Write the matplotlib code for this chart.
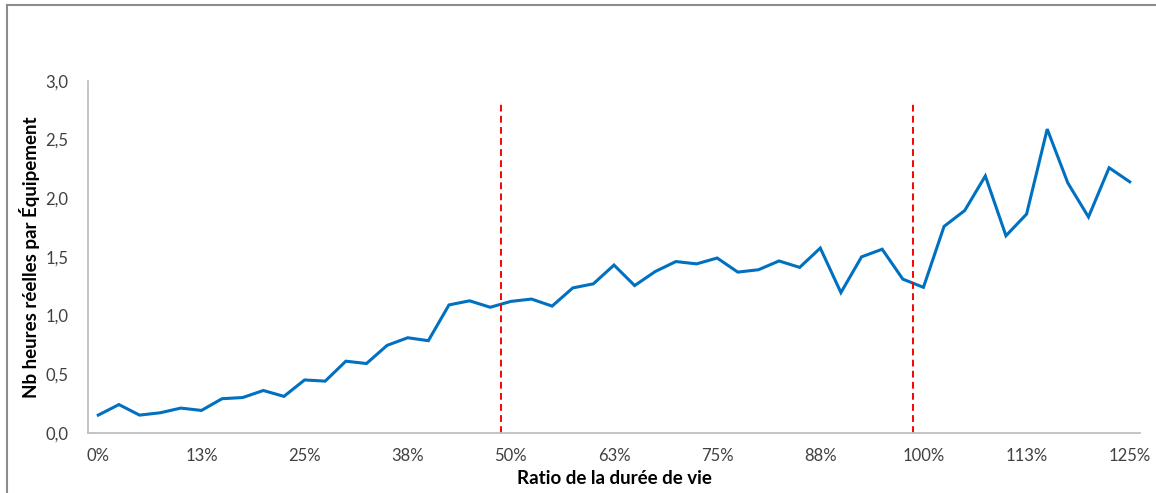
import matplotlib.pyplot as plt
from matplotlib.lines import Line2D

# Ratio de la durée de vie, pas de 2,5 %
ratio_pct = [i * 2.5 for i in range(51)]
heures = [
    0.15, 0.24, 0.15, 0.17, 0.21, 0.19, 0.29, 0.30, 0.36, 0.31,
    0.45, 0.44, 0.61, 0.59, 0.745, 0.81, 0.785, 1.09, 1.125, 1.07,
    1.12, 1.14, 1.08, 1.235, 1.27, 1.43, 1.255, 1.375, 1.46, 1.44,
    1.49, 1.37, 1.39, 1.465, 1.41, 1.575, 1.195, 1.50, 1.565, 1.31,
    1.24, 1.76, 1.895, 2.19, 1.68, 1.865, 2.59, 2.13, 1.84, 2.26,
    2.14,
]
seuils = [19.5, 39.5]  # entre 47,5 % / 50 % et 97,5 % / 100 %
y_ticks = [0.0, 0.5, 1.0, 1.5, 2.0, 2.5, 3.0]

plt.rcParams["font.family"] = ["Lato", "DejaVu Sans"]

fig = plt.figure(figsize=(11.56, 4.93), dpi=100)
ax = fig.add_axes([0.0761, 0.1223, 0.9101, 0.7134])

x = list(range(len(heures)))
ax.plot(x, heures, color="#0070C0", lw=2.2, solid_joinstyle="miter")
ax.vlines(seuils, 0, 2.8, colors="#FF0000", linestyles=(0, (3.5, 2.2)), lw=1.4)

ax.set_xlim(-0.5, len(heures) - 0.5)
ax.set_ylim(0, 3.0)
ax.set_xticks(x[::5])
ax.set_xticklabels([f"{round(v + 0.001):.0f}%" for v in ratio_pct[::5]])
ax.set_yticks(y_ticks)
ax.set_yticklabels([f"{v:.1f}".replace(".", ",") for v in y_ticks])
ax.tick_params(length=0, labelsize=12, colors="#404040", pad=11)
ax.tick_params(axis="y", pad=14)

for side in ["top", "right"]:
    ax.spines[side].set_visible(False)
for side in ["left", "bottom"]:
    ax.spines[side].set_color("#BFBFBF")
    ax.spines[side].set_linewidth(1.3)

ax.set_xlabel("Ratio de la durée de vie", fontsize=13.5, fontweight="bold", labelpad=4)
ax.set_ylabel("Nb heures réelles par Équipement", fontsize=13.5, fontweight="bold", labelpad=4)

# cadre gris du graphique (haut et gauche)
fig.add_artist(Line2D([6.5 / 1156, 6.5 / 1156], [0, 1 - 4.5 / 493], color="#8C8C8C", lw=1.5))
fig.add_artist(Line2D([6.5 / 1156, 1], [1 - 4.5 / 493, 1 - 4.5 / 493], color="#8C8C8C", lw=1.5))

fig.savefig("out.png", dpi=100)
